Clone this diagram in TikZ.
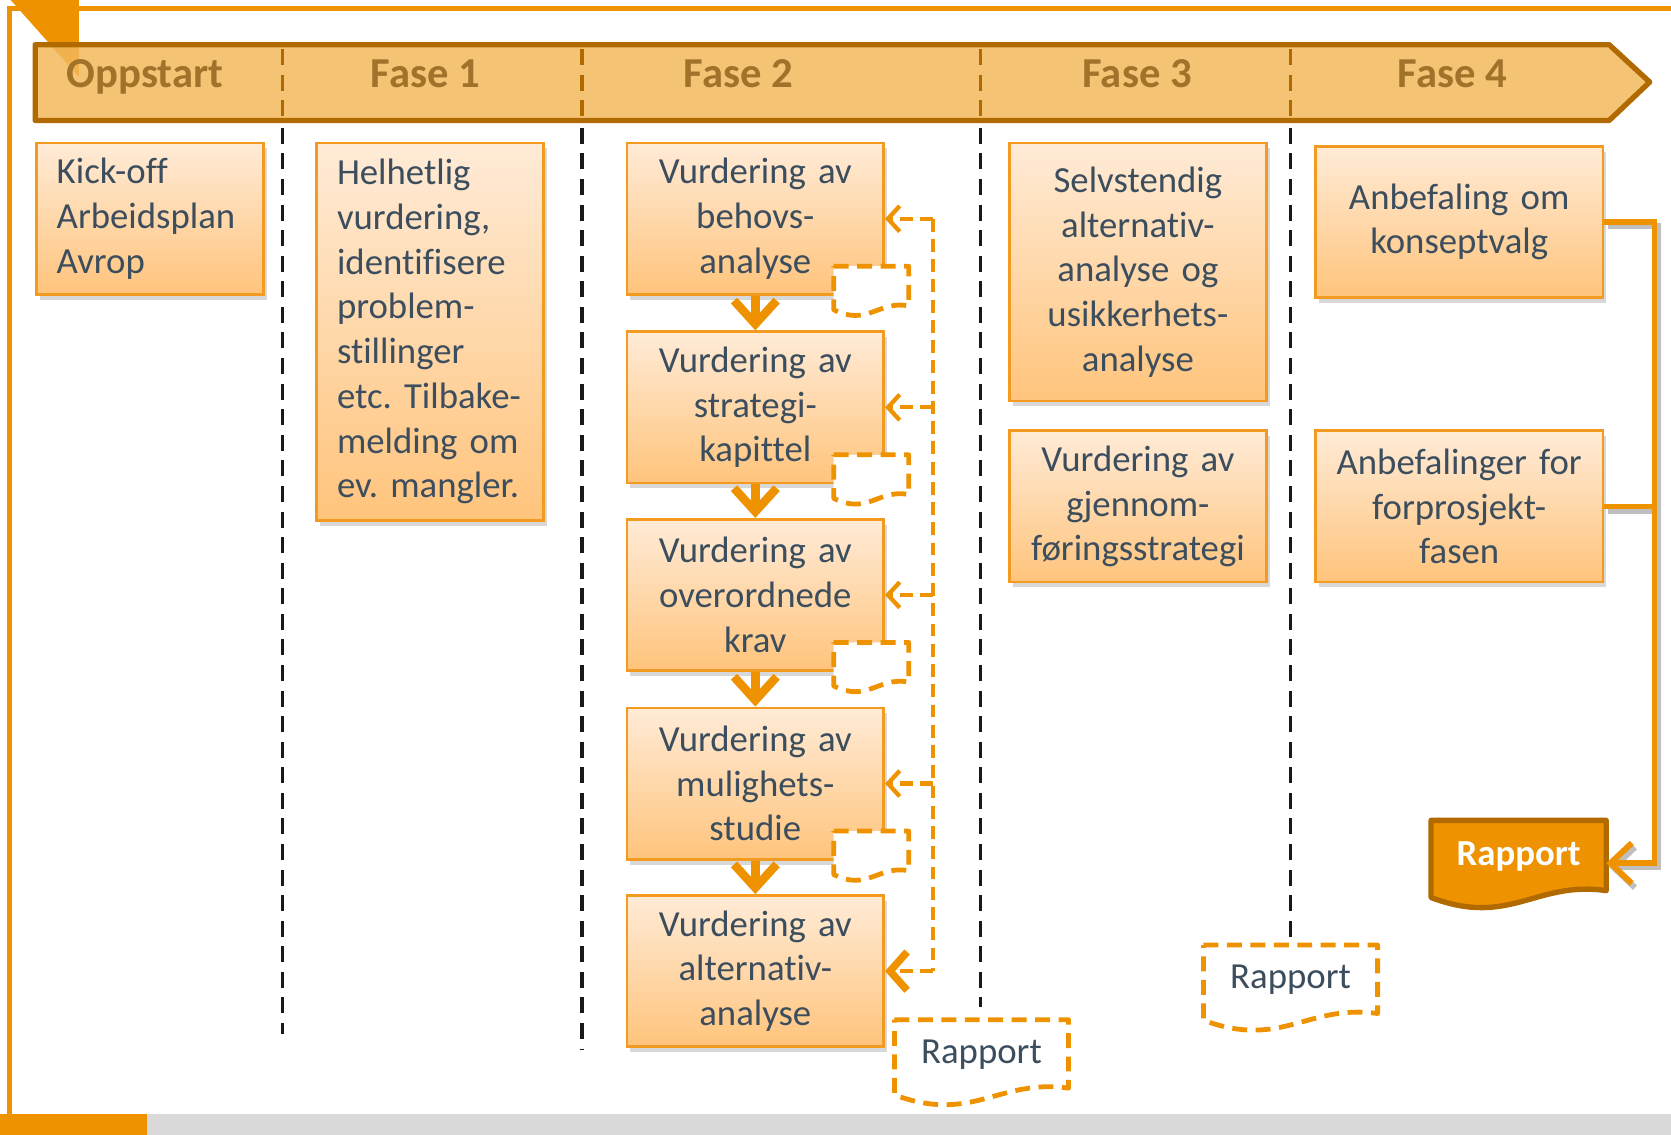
\documentclass[tikz,border=0pt]{standalone}
\usepackage{fontspec}
\setmainfont{Carlito}[Ligatures=NoCommon]
\usetikzlibrary{positioning,arrows.meta,shadows,calc,backgrounds}
\definecolor{barfill}{HTML}{F2B85C}
\definecolor{barline}{HTML}{B06A00}
\definecolor{phasetext}{HTML}{A0722A}
\definecolor{org}{HTML}{EE9200}
\definecolor{boxline}{HTML}{F29B20}
\definecolor{boxtop}{HTML}{FFEBD7}
\definecolor{boxbot}{HTML}{FFC47C}
\definecolor{txt}{HTML}{3C4E5E}
\definecolor{strip}{HTML}{D9D9D9}
\hyphenpenalty 10000
\frenchspacing
\newcommand\docpath[2]{\path[#1] let \p1=(#2.south west), \p2=(#2.north east), \n1={\x2-\x1}, \n2={\y2-\y1} in
  (\x1,\y2) -- (\x2,\y2) -- (\x2,{\y1+0.18*\n2}) .. controls ({\x2-0.4*\n1},{\y1+0.3*\n2}) and ({\x1+0.45*\n1},{\y1-0.25*\n2}) .. (\x1,{\y1+0.1*\n2}) -- cycle;}
\begin{document}
\begin{tikzpicture}[x=1pt,y=-1pt,
  box/.style={draw=boxline,line width=2.5pt,top color=boxtop,bottom color=boxbot,text=txt,
    font=\fontsize{34.5}{42}\selectfont,minimum height=142pt,inner xsep=10pt,inner ysep=0pt,
    drop shadow={shadow xshift=3pt,shadow yshift=-5pt,fill=black!30}},
  lbox/.style={box,anchor=north west,minimum width=213pt,text width=175pt,inner xsep=19pt,align=left},
  vbox/.style={box,minimum width=241pt,text width=221pt,align=center},
  wbox/.style={box,minimum width=270pt,text width=250pt,align=center},
  phase/.style={anchor=base,text=phasetext,font=\fontsize{40}{48}\selectfont\bfseries},
  bar/.style={draw=barline,fill=barfill,fill opacity=0.85,line width=5pt,line join=round},
  bardiv/.style={draw=barline,line width=3.5pt,dash pattern=on 15pt off 9pt},
  div/.style={draw=black!90,line width=3.5pt,dash pattern=on 15pt off 9pt},
  down/.style={draw=org,line width=8pt,-{Straight Barb[length=22pt,width=40pt]}},
  fb/.style={draw=org,line width=4pt,dash pattern=on 12pt off 7pt},
  fbarrow/.style={fb,-{Straight Barb[length=11pt,width=24pt]}},
  doc/.style={minimum width=70pt,minimum height=45pt,inner sep=0pt},
  dashdoc/.style={draw=org,fill=white,line width=4.5pt,dash pattern=on 14pt off 8pt,line join=round},
  rep/.style={text=txt,font=\fontsize{34.5}{42}\selectfont,minimum width=163pt,minimum height=78pt,inner sep=0pt,text depth=19pt},
  conn/.style={draw=org,line width=5.5pt,preaction={draw=black!25,line width=5.5pt,transform canvas={shift={(3pt,-4pt)}}}}]
\useasboundingbox (0,0) rectangle (1568,1065);
\fill[strip] (0,1045) rectangle (1568,1065);
\fill[org] (0,1045) rectangle (138,1065);
\draw[org,line width=4pt] (9,1045) -- (9,8) -- (1568,8);
\fill[org] (10,0) -- (74,0) -- (74,72) -- cycle;
\draw[bar] (33,42) -- (1510,42) -- (1548,77) -- (1510,113) -- (33,113) -- cycle;
\foreach \x in {265,546,920,1211} \draw[bardiv] (\x,46) -- (\x,109);
\foreach \t/\x in {Oppstart/136,Fase 1/399,Fase 2/693,Fase 3/1067,Fase 4/1363} \node[phase] at (\x,82) {\t};
\draw[div] (265,120) -- (265,970);
\draw[div] (546,120) -- (546,985);
\draw[div] (920,120) -- (920,945);
\node[lbox] (k) at (33,133) {Kick-off\\Arbeidsplan\\Avrop};
\node[lbox,minimum height=354pt] (h) at (296,133) {Helhetlig\\vurdering,\\identifisere\\problem-\\stillinger\\etc. Tilbake-\\melding om\\ev. mangler.};
\node[vbox,anchor=north west] (v1) at (587,133) {Vurdering av\\behovs-\\analyse};
\node[vbox,below=32.5pt of v1] (v2) {Vurdering av\\strategi-\\kapittel};
\node[vbox,below=31.5pt of v2] (v3) {Vurdering av\\overordnede\\krav};
\node[vbox,below=32.5pt of v3] (v4) {Vurdering av\\mulighets-\\studie};
\node[vbox,below=31.5pt of v4] (v5) {Vurdering av\\alternativ-\\analyse};
\node[vbox,anchor=north west,minimum height=242pt] (s1) at (946,133) {Selvstendig\\alternativ-\\analyse og\\usikkerhets-\\analyse};
\node[vbox,below=25.5pt of s1] (s2) {Vurdering av\\gjennom-\\føringsstrategi};
\node[wbox,anchor=north west] (a1) at (1233,136) {Anbefaling om\\konseptvalg};
\node[wbox,below=122.5pt of a1] (a2) {Anbefalinger for\\forprosjekt-\\fasen};
\foreach \i/\j in {1/2,2/3,3/4,4/5} \draw[down] (v\i.south) -- (v\j.north);
\foreach \i in {1,...,4} {
  \node[doc] (d\i) at ([xshift=-13pt,yshift=5pt]v\i.south east) {};
  \docpath{dashdoc}{d\i}
}
\draw[fb] ([xshift=45pt]v1.east) -- ([xshift=45pt]v5.east);
\foreach \i in {1,...,4} \draw[fbarrow] ([xshift=45pt]v\i.east) -- (v\i.east);
\draw[fb,-{Straight Barb[length=16pt,width=36pt,line width=7pt]}] ([xshift=45pt]v5.east) -- (v5.east);
\node[rep] (r1) at (921,996) {Rapport};
\node[rep] (r2) at (1211,926) {Rapport};
\node[rep,text=white,font=\fontsize{34.5}{42}\selectfont\bfseries,minimum width=164pt,minimum height=80pt] (r3) at (1425,810) {Rapport};
\begin{scope}[on background layer]
\docpath{dashdoc}{r1}
\docpath{dashdoc}{r2}
\docpath{draw=barline,fill=org,line width=5pt,line join=round}{r3}
\end{scope}
\draw[div] (1211,120) -- (r2.north);
\coordinate (e) at ([xshift=47pt]a1.east);
\draw[conn] (a2.east) -- (a2.east -| e);
\draw[conn,-{Straight Barb[length=20pt,width=38pt]}] (a1.east) -- (e) |- (r3.east);
\end{tikzpicture}
\end{document}
